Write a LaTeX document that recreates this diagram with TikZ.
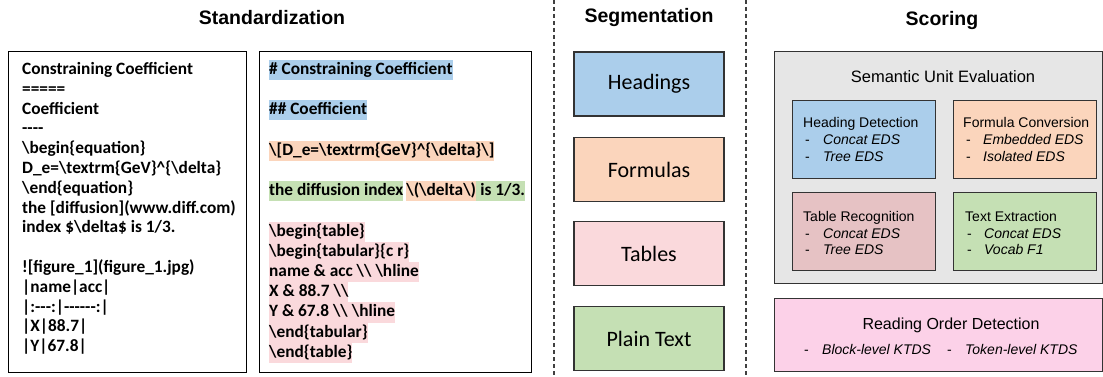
\documentclass[tikz,border=0pt]{standalone}
\usepackage{fontspec}
\setmainfont{Carlito}
\newfontfamily\codefont{Carlito}[Ligatures=TeXOff]
\newfontfamily\arialfont{Liberation Sans}
\newcommand{\bs}{\textbackslash}
\definecolor{hblue}{RGB}{171,206,235}
\definecolor{horange}{RGB}{251,213,188}
\definecolor{hpink}{RGB}{250,217,220}
\definecolor{hgreen}{RGB}{197,224,180}
\definecolor{sgray}{RGB}{230,230,230}
\definecolor{sberry}{RGB}{230,194,196}
\definecolor{smagenta}{RGB}{252,209,232}
\begin{document}
\begin{tikzpicture}[x=1pt,y=-1pt,
  title/.style={font=\arialfont\bfseries\fontsize{19.5}{23}\selectfont, inner sep=0pt},
  frame/.style={draw=black, line width=1.3pt, anchor=north west, inner sep=0pt},
  codeline/.style={anchor=west, inner xsep=0pt, inner ysep=0pt, text height=14.6pt, text depth=5.6pt,
    font=\codefont\bfseries\fontsize{17.3}{20}\selectfont},
  segbox/.style={draw=black!80, line width=1.3pt, minimum width=150pt, minimum height=64pt, inner sep=0pt,
    font=\fontsize{22}{26}\selectfont},
  scorebox/.style={draw=black!80, line width=1.2pt, anchor=north west, inner sep=0pt},
  subbox/.style={scorebox, minimum width=142.5pt, minimum height=78pt},
  subtxt/.style={anchor=base west, inner sep=0pt, font=\arialfont\fontsize{14}{16}\selectfont},
  dashline/.style={draw=black!75, line width=1.1pt, dash pattern=on 4pt off 3pt}]
\useasboundingbox (0,0) rectangle (1103,377);

% titles
\node[title] (t1) at (272,18) {Standardization};
\node[title] (t2) at (649,18) {Segmentation};
\node[title] (t3) at (942,21) {Scoring};

% dashed separators
\coordinate (d1a) at (554,0); \coordinate (d1b) at (554,377);
\coordinate (d2a) at (746,0); \coordinate (d2b) at (746,377);
\draw[dashline] (d1a) -- (d1b);
\draw[dashline] (d2a) -- (d2b);

% left source box
\node[frame, minimum width=238pt, minimum height=321pt] (src) at (8,51) {};
\node[codeline] (s0) at (22,70) {Constraining Coefficient};
\node[codeline] (s1) at (22,89.8) {=====};
\node[codeline] (s2) at (22,109.6) {Coefficient};
\node[codeline] (s3) at (22,129.4) {----};
\node[codeline] (s4) at (22,149.2) {\bs begin\{equation\}};
\node[codeline] (s5) at (22,169) {D\_e=\bs textrm\{GeV\}\textasciicircum\{\bs delta\}};
\node[codeline] (s6) at (22,188.8) {\bs end\{equation\}};
\node[codeline] (s7) at (22,208.6) {the [diffusion](www.diff.com)};
\node[codeline] (s8) at (22,228.4) {index \$\bs delta\$ is 1/3.};
\node[codeline] (s10) at (22,268) {![figure\_1](figure\_1.jpg)};
\node[codeline] (s11) at (22,287.8) {|name|acc|};
\node[codeline] (s12) at (22,307.6) {|:---:|------:|};
\node[codeline] (s13) at (22,327.4) {|X|88.7|};
\node[codeline] (s14) at (22,347.2) {|Y|67.8|};

% standardized box
\node[frame, minimum width=272pt, minimum height=321pt] (std) at (259,51) {};
\node[codeline, fill=hblue] (r0) at (269,70) {\# Constraining Coefficient};
\node[codeline, fill=hblue] (r2) at (269,110.4) {\#\# Coefficient};
\node[codeline, fill=horange] (r4) at (269,150.8) {\bs[D\_e=\bs textrm\{GeV\}\textasciicircum\{\bs delta\}\bs]};
\node[codeline, fill=hgreen] (r6a) at (269,191.2) {the diffusion index};
\node[codeline, fill=horange, xshift=2.8pt] (r6b) at (r6a.east) {\bs(\bs delta\bs)};
\node[codeline, fill=hgreen] (r6c) at (r6b.east) {\ is 1/3.};
\node[codeline, fill=hpink] (r8) at (269,231.6) {\bs begin\{table\}};
\node[codeline, fill=hpink] (r9) at (269,251.8) {\bs begin\{tabular\}\{c r\}};
\node[codeline, fill=hpink] (r10) at (269,272) {name \& acc \bs\bs\ \bs hline};
\node[codeline, fill=hpink] (r11) at (269,292.2) {X \& 88.7 \bs\bs};
\node[codeline, fill=hpink] (r12) at (269,312.4) {Y \& 67.8 \bs\bs\ \bs hline};
\node[codeline, fill=hpink] (r13) at (269,332.6) {\bs end\{tabular\}};
\node[codeline, fill=hpink] (r14) at (269,352.8) {\bs end\{table\}};

% segmentation
\node[segbox, fill=hblue] (seg1) at (649,84) {Headings};
\node[segbox, fill=horange] (seg2) at (649,169.5) {Formulas};
\node[segbox, fill=hpink] (seg3) at (649,253.5) {Tables};
\node[segbox, fill=hgreen] (seg4) at (649,338.5) {Plain Text};

% scoring
\node[scorebox, fill=sgray, minimum width=328pt, minimum height=232pt] (sue) at (774,51) {};
\node[inner sep=0pt, font=\arialfont\fontsize{16.5}{19}\selectfont] (suet) at (943,77) {Semantic Unit Evaluation};

\node[subbox, fill=hblue] (hd) at (792,100) {};
\node[subtxt] (hd0) at (803,128) {Heading Detection};
\node[subtxt] (hd1) at (805,145) {-\hspace{13.3pt}\textit{Concat EDS}};
\node[subtxt] (hd2) at (805,161.5) {-\hspace{13.3pt}\textit{Tree EDS}};

\node[subbox, fill=horange] (fc) at (953,100) {};
\node[subtxt] (fc0) at (963,128) {Formula Conversion};
\node[subtxt] (fc1) at (966,145) {-\hspace{12.3pt}\textit{Embedded EDS}};
\node[subtxt] (fc2) at (966,161.5) {-\hspace{12.3pt}\textit{Isolated EDS}};

\node[subbox, fill=sberry] (tr) at (792,192) {};
\node[subtxt] (tr0) at (803,221) {Table Recognition};
\node[subtxt] (tr1) at (805,238) {-\hspace{13.3pt}\textit{Concat EDS}};
\node[subtxt] (tr2) at (805,254.5) {-\hspace{13.3pt}\textit{Tree EDS}};

\node[subbox, fill=hgreen] (te) at (953,192) {};
\node[subtxt] (te0) at (965,221) {Text Extraction};
\node[subtxt] (te1) at (967,238) {-\hspace{12.3pt}\textit{Concat EDS}};
\node[subtxt] (te2) at (967,254.5) {-\hspace{12.3pt}\textit{Vocab F1}};

\node[scorebox, fill=smagenta, minimum width=328pt, minimum height=73pt] (rod) at (774,298) {};
\node[inner sep=0pt, font=\arialfont\fontsize{16}{19}\selectfont] (rodt) at (951,325) {Reading Order Detection};
\node[subtxt] (rod1) at (804,354) {-\hspace{13.3pt}\textit{Block-level KTDS}};
\node[subtxt] (rod2) at (947,354) {-\hspace{13.3pt}\textit{Token-level KTDS}};
\end{tikzpicture}
\end{document}
